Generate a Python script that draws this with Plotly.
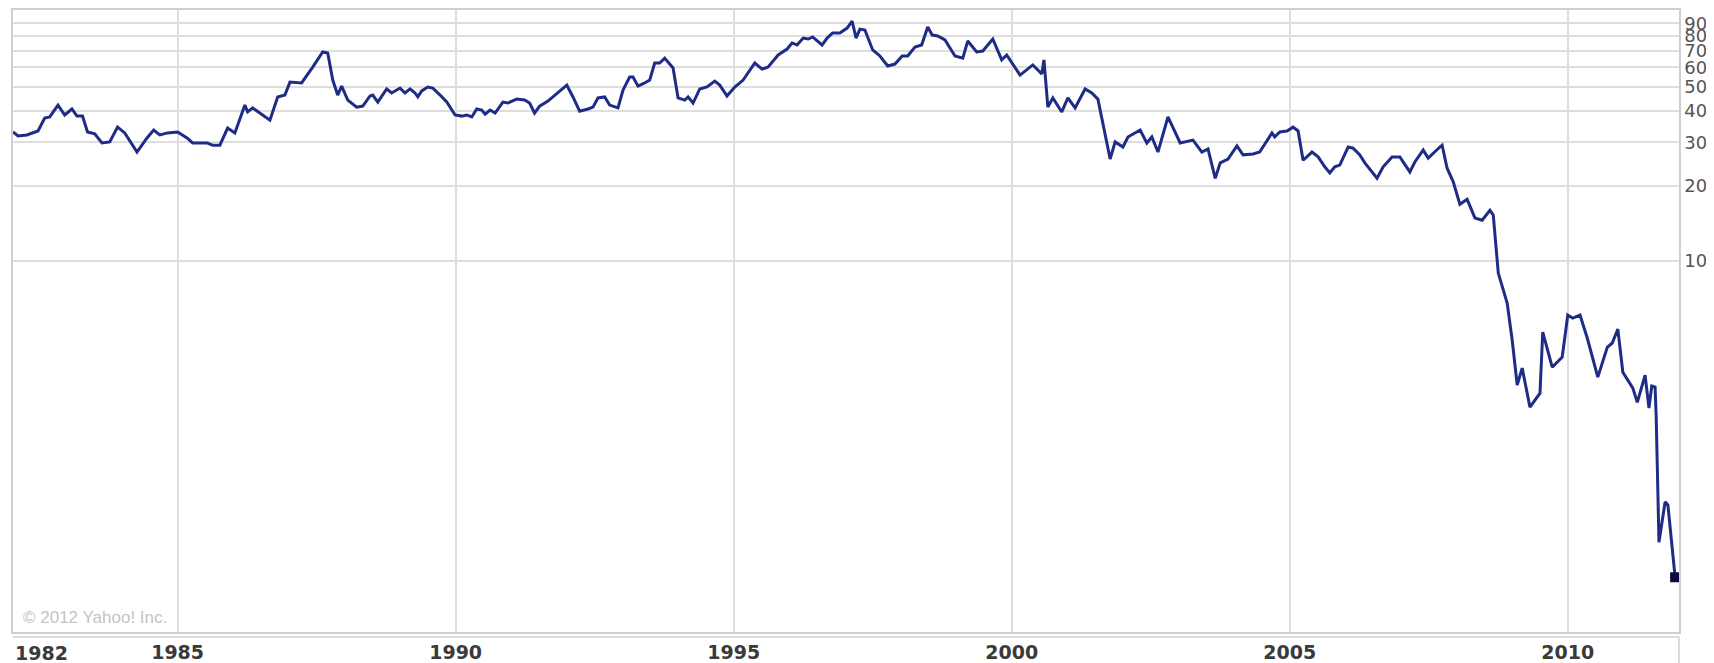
import plotly.graph_objects as go

# Monthly-ish closing prices (log scale, right axis)
years = [
    1982.04, 1982.13, 1982.29, 1982.49, 1982.61, 1982.70, 1982.85, 1982.97,
    1983.10, 1983.19, 1983.29, 1983.38, 1983.51, 1983.64, 1983.78, 1983.92,
    1984.05, 1984.27, 1984.45, 1984.57, 1984.68, 1984.82,
    1985.00, 1985.17, 1985.27, 1985.53, 1985.63, 1985.76, 1985.90,
    1986.03, 1986.21, 1986.26, 1986.35, 1986.66, 1986.80, 1986.93,
    1987.02, 1987.23, 1987.43, 1987.61, 1987.70, 1987.79, 1987.88, 1987.95,
    1988.06, 1988.22, 1988.33, 1988.46, 1988.51, 1988.60, 1988.76, 1988.85,
    1989.00, 1989.09, 1989.18, 1989.27, 1989.32, 1989.39, 1989.50, 1989.59, 1989.72, 1989.84, 1989.99,
    1990.11, 1990.20, 1990.29, 1990.38, 1990.47, 1990.53, 1990.62, 1990.71, 1990.85, 1990.94,
    1991.10, 1991.24, 1991.33, 1991.42, 1991.51, 1991.66, 1991.78,
    1992.00, 1992.11, 1992.23, 1992.38, 1992.47, 1992.56, 1992.68, 1992.77, 1992.92,
    1993.01, 1993.13, 1993.19, 1993.28, 1993.40, 1993.49, 1993.58, 1993.67, 1993.76, 1993.91,
    1994.00, 1994.12, 1994.18, 1994.27, 1994.39, 1994.52, 1994.66, 1994.75, 1994.88,
    1995.02, 1995.17, 1995.38, 1995.51, 1995.62, 1995.80, 1995.87, 1995.96,
    1996.05, 1996.14, 1996.25, 1996.34, 1996.42, 1996.59, 1996.68, 1996.78, 1996.91,
    1997.04, 1997.13, 1997.20, 1997.27, 1997.36, 1997.50, 1997.63, 1997.77, 1997.90,
    1998.03, 1998.13, 1998.26, 1998.38, 1998.49, 1998.57, 1998.67, 1998.80, 1998.98,
    1999.12, 1999.21, 1999.37, 1999.48, 1999.66, 1999.82, 1999.91,
    2000.15, 2000.27, 2000.38, 2000.47, 2000.54, 2000.58, 2000.65, 2000.74, 2000.90,
    2001.01, 2001.14, 2001.32, 2001.44, 2001.55, 2001.77, 2001.86,
    2002.00, 2002.09, 2002.31, 2002.43, 2002.52, 2002.63, 2002.81,
    2003.03, 2003.26, 2003.42, 2003.53, 2003.66, 2003.75, 2003.89,
    2004.05, 2004.16, 2004.34, 2004.46, 2004.68, 2004.73, 2004.82, 2004.95,
    2005.06, 2005.15, 2005.24, 2005.40, 2005.51, 2005.63, 2005.72, 2005.81, 2005.90,
    2006.05, 2006.14, 2006.26, 2006.35, 2006.57, 2006.68, 2006.84, 2006.98,
    2007.16, 2007.25, 2007.40, 2007.49, 2007.70, 2007.74, 2007.83, 2007.94,
    2008.06, 2008.19, 2008.33, 2008.46, 2008.60, 2008.66, 2008.75, 2008.91,
    2009.00, 2009.09, 2009.18, 2009.32, 2009.50, 2009.55, 2009.72, 2009.90,
    2010.00, 2010.09, 2010.22, 2010.35, 2010.54, 2010.71, 2010.80, 2010.90, 2010.99,
    2011.17, 2011.25, 2011.39, 2011.46, 2011.51, 2011.57, 2011.59, 2011.64, 2011.75, 2011.80, 2011.93,
]

prices = [
    33.0, 31.8, 32.1, 33.3, 37.5, 37.9, 42.3, 38.6,
    40.8, 38.2, 38.2, 33.0, 32.4, 29.8, 30.1, 34.5,
    32.7, 27.4, 31.2, 33.6, 32.1, 32.7,
    33.0, 31.2, 29.8, 29.8, 29.2, 29.2, 34.2,
    32.7, 42.3, 39.7, 41.2, 36.8, 45.6, 46.4,
    52.3, 51.9, 60.1, 69.1, 68.4, 53.3, 46.4, 50.4,
    44.3, 41.5, 41.9, 46.0, 46.4, 43.5, 49.1, 47.3,
    49.5, 47.3, 49.1, 47.3, 45.6, 48.2, 50.0, 49.5, 46.4, 43.5, 38.6,
    38.2, 38.6, 37.9, 40.8, 40.4, 38.9, 40.4, 39.3, 43.5, 43.1,
    44.7, 44.3, 43.1, 39.3, 41.9, 43.9, 46.4,
    50.9, 45.6, 40.0, 40.8, 41.5, 45.2, 45.6, 42.3, 41.2,
    48.6, 54.8, 54.8, 50.4, 51.9, 53.3, 62.4, 62.4, 65.3, 59.6,
    45.2, 44.3, 45.6, 43.1, 49.1, 50.0, 52.8, 50.9, 46.0,
    50.0, 53.3, 62.4, 59.0, 60.1, 67.2, 69.1, 71.0,
    75.1, 73.7, 78.6, 77.9, 79.4, 73.7, 78.6, 82.4, 82.4,
    86.2, 92.0, 78.6, 85.4, 84.7, 70.4, 66.6, 60.7, 61.8,
    66.6, 66.6, 72.3, 73.7, 87.1, 80.8, 80.1, 77.2, 66.6,
    65.3, 76.5, 69.1, 69.7, 77.9, 64.2, 67.2,
    55.8, 58.5, 61.3, 58.5, 56.4, 64.2, 41.5, 45.2, 39.7,
    45.2, 41.2, 49.1, 47.3, 44.7, 25.7, 30.1,
    28.7, 31.5, 33.6, 29.8, 31.5, 27.4, 37.9,
    29.8, 30.6, 27.4, 28.2, 21.5, 24.8, 25.7,
    29.0, 26.7, 26.9, 27.4, 32.7, 31.5, 33.0, 33.3,
    34.5, 33.3, 25.4, 27.4, 26.2, 23.9, 22.6, 23.9, 24.3,
    28.7, 28.4, 26.7, 24.8, 21.5, 23.9, 26.2, 26.2,
    22.8, 25.0, 27.9, 25.9, 28.7, 29.2, 23.6, 20.8,
    16.9, 17.7, 14.9, 14.6, 16.0, 15.3, 8.95, 6.78,
    4.82, 3.18, 3.72, 2.59, 2.95, 5.19, 3.75, 4.12,
    6.07, 5.90, 6.07, 4.91, 3.42, 4.51, 4.69, 5.33, 3.58,
    3.09, 2.71, 3.48, 2.57, 3.15, 3.12, 2.36, 0.744, 1.08, 1.05, 0.538,
]

x_ticks = [1985, 1990, 1995, 2000, 2005, 2010]
x_tick_labels = ["1985", "1990", "1995", "2000", "2005", "2010"]
first_year_label = "1982"
y_ticks = [10, 20, 30, 40, 50, 60, 70, 80, 90]
y_tick_labels = ["10", "20", "30", "40", "50", "60", "70", "80", "90"]
copyright_text = "© 2012 Yahoo! Inc."

LINE = "#1f2c86"
GRID = "#dedede"
FRAME = "#cfcfcf"
XFONT = dict(family="DejaVu Sans", size=19, color="#3a3a3a", weight="bold")

fig = go.Figure()
fig.add_trace(go.Scatter(
    x=years, y=prices, mode="lines",
    line=dict(color=LINE, width=3),
    hoverinfo="skip", showlegend=False,
))
fig.add_trace(go.Scatter(
    x=years[-1:], y=prices[-1:], mode="markers",
    marker=dict(color="#0c0c3c", size=10, symbol="square"),
    hoverinfo="skip", showlegend=False,
))

# the page body has an 8px margin, so the figure is 8px smaller than the window
fig.update_layout(
    width=1706, height=655,
    margin=dict(l=5, r=35, t=2, b=31),
    paper_bgcolor="white", plot_bgcolor="white",
    xaxis=dict(
        range=[1982.04, 2012.0],
        tickmode="array", tickvals=x_ticks, ticktext=x_tick_labels,
        showgrid=True, gridcolor=GRID, gridwidth=1.5,
        showline=True, linecolor=FRAME, linewidth=1.5, mirror=True,
        ticks="", zeroline=False, automargin=False,
        tickfont=XFONT,
        ticklabelstandoff=2,
    ),
    yaxis=dict(
        type="log", range=[-0.489, 2.008], side="right",
        tickmode="array", tickvals=y_ticks, ticktext=y_tick_labels,
        showgrid=True, gridcolor=GRID, gridwidth=1.5,
        showline=True, linecolor=FRAME, linewidth=1.5, mirror=True,
        ticks="", zeroline=False, automargin=False,
        tickfont=dict(family="DejaVu Sans", size=18, color="#555555"),
        ticklabelstandoff=0,
    ),
)

# second rule below the plot, framing the date strip
fig.add_shape(type="line", xref="paper", yref="paper", x0=0, x1=1,
              y0=-5 / 622, y1=-5 / 622, line=dict(color=FRAME, width=1.5))
fig.add_shape(type="line", xref="paper", yref="paper", x0=1, x1=1,
              y0=-5 / 622, y1=-40 / 622, line=dict(color=FRAME, width=1.5))

fig.add_annotation(
    text=first_year_label, xref="paper", yref="paper", x=0, y=0,
    xanchor="left", yanchor="middle", yshift=-21, showarrow=False,
    font=XFONT,
)
fig.add_annotation(
    text=copyright_text, xref="paper", yref="paper", x=0, y=0,
    xanchor="left", yanchor="middle", xshift=8, yshift=15, showarrow=False,
    font=dict(family="Liberation Sans", size=17, color="#c4c4c4"),
)

fig.write_html("out.html")
